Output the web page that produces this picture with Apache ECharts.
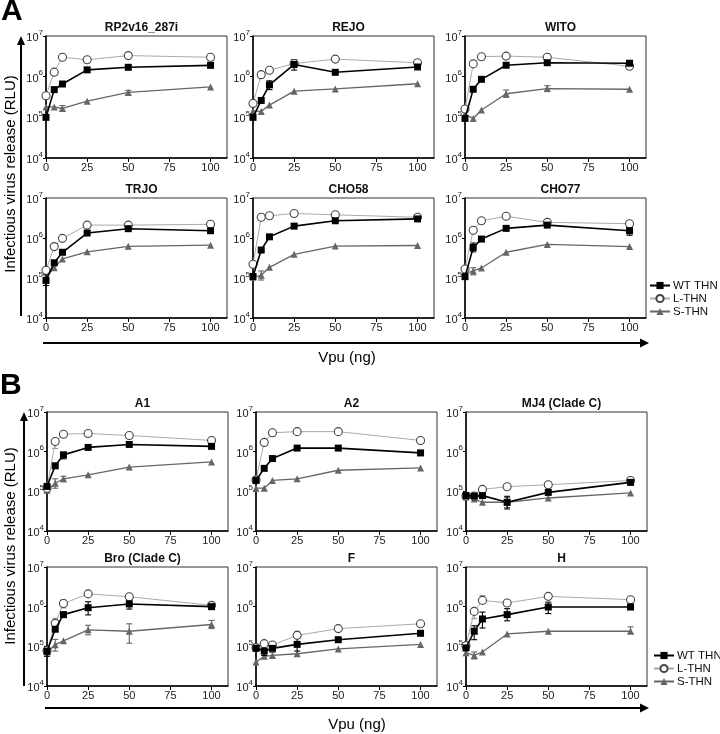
<!DOCTYPE html>
<html>
<head>
<meta charset="utf-8">
<script src="https://cdn.jsdelivr.net/npm/echarts@6/dist/echarts.min.js"></script>
<style>
html,body{margin:0;padding:0;background:#fff;}
#chart{width:720px;height:734px;}
</style>
</head>
<body>
<div id="chart"></div>
<script>
// ---------------- DATA ----------------
const panelTitles = ['RP2v16_287i','REJO','WITO','TRJO','CHO58','CHO77','A1','A2','MJ4 (Clade C)','Bro (Clade C)','F','H'];
const doses = [0, 5, 10, 25, 50, 100];
const xTicks = [0, 25, 50, 75, 100];
const seriesNames = ['WT THN', 'L-THN', 'S-THN'];

const wtTHN = [
  [1.0e5, 4.8e5, 6.6e5, 1.47e6, 1.7e6, 1.9e6],
  [1.0e5, 2.6e5, 6.3e5, 2.0e6, 1.28e6, 1.73e6],
  [9.4e4, 4.9e5, 8.6e5, 1.91e6, 2.2e6, 2.14e6],
  [8.7e4, 2.4e5, 4.4e5, 1.33e6, 1.71e6, 1.52e6],
  [1.09e5, 5.0e5, 1.07e6, 1.98e6, 2.7e6, 3.0e6],
  [1.08e5, 5.8e5, 9.4e5, 1.74e6, 2.1e6, 1.52e6],
  [1.33e5, 4.4e5, 8.3e5, 1.28e6, 1.52e6, 1.36e6],
  [1.88e5, 3.8e5, 6.7e5, 1.23e6, 1.23e6, 9.3e5],
  [7.8e4, 7.6e4, 7.8e4, 5.3e4, 9.4e4, 1.68e5],
  [7.5e4, 2.7e5, 6.3e5, 9.4e5, 1.17e6, 1.0e6],
  [8.9e4, 7.6e4, 8.9e4, 1.12e5, 1.47e5, 2.13e5],
  [9.1e4, 2.4e5, 4.9e5, 6.3e5, 9.8e5, 9.8e5]
];
const lTHN = [
  [3.4e5, 1.29e6, 3.0e6, 2.6e6, 3.3e6, 3.0e6],
  [2.2e5, 1.12e6, 1.44e6, 2.1e6, 2.7e6, 2.2e6],
  [1.6e5, 2.06e6, 3.1e6, 3.2e6, 3.0e6, 1.8e6],
  [1.56e5, 6.1e5, 9.8e5, 2.1e6, 2.1e6, 2.2e6],
  [2.2e5, 3.3e6, 3.6e6, 4.1e6, 3.8e6, 3.3e6],
  [1.68e5, 1.56e6, 2.7e6, 3.5e6, 2.46e6, 2.28e6],
  [1.2e5, 1.81e6, 2.76e6, 2.87e6, 2.56e6, 1.92e6],
  [1.94e5, 1.71e6, 3.0e6, 3.2e6, 3.2e6, 1.92e6],
  [7.6e4, 7.6e4, 1.12e5, 1.31e5, 1.47e5, 1.88e5],
  [7.8e4, 3.8e5, 1.2e6, 2.1e6, 1.78e6, 1.08e6],
  [9.3e4, 1.17e5, 1.08e5, 1.89e5, 2.8e5, 3.7e5],
  [1.04e5, 7.6e5, 1.44e6, 1.24e6, 1.82e6, 1.5e6]
];
const sTHN = [
  [1.8e5, 1.8e5, 1.65e5, 2.5e5, 4.1e5, 5.6e5],
  [1.44e5, 1.4e5, 2.0e5, 4.4e5, 5.0e5, 6.7e5],
  [1.19e5, 9.4e4, 1.52e5, 3.8e5, 5.1e5, 4.9e5],
  [1.06e5, 1.8e5, 3.0e5, 4.5e5, 6.2e5, 6.6e5],
  [1.05e5, 1.17e5, 1.85e5, 3.9e5, 6.3e5, 6.5e5],
  [1.28e5, 1.5e5, 1.78e5, 4.4e5, 6.9e5, 6.1e5],
  [1.06e5, 1.6e5, 2.07e5, 2.6e5, 4.1e5, 5.5e5],
  [1.2e5, 1.2e5, 1.88e5, 2.07e5, 3.4e5, 3.9e5],
  [7.2e4, 6.4e4, 5.3e4, 5.3e4, 6.8e4, 9.1e4],
  [7.2e4, 1.1e5, 1.38e5, 2.6e5, 2.4e5, 3.55e5],
  [4.0e4, 5.6e4, 5.9e4, 6.5e4, 8.6e4, 1.12e5],
  [6.9e4, 5.9e4, 7.2e4, 2.05e5, 2.4e5, 2.4e5]
];
// error bars: [panel, dose, low, high]
const wtErr = [
  [1,25,1.45e6,2.6e6],[1,10,4.8e5,7.9e5],
  [3,0,6.5e4,1.2e5],
  [5,5,4.5e5,7.5e5],[5,100,1.17e6,1.9e6],
  [6,10,6.6e5,9.6e5],
  [8,25,3.6e4,7.5e4],
  [9,25,6.2e5,1.33e6],[9,50,8.7e5,1.45e6],[9,0,5.6e4,1.0e5],
  [10,25,7.6e4,1.7e5],[10,5,5.9e4,1.04e5],
  [11,5,1.47e5,3.3e5],[11,10,2.9e5,7.3e5],[11,25,4.4e5,8.9e5],[11,50,6.7e5,1.3e6]
];
const lErr = [
  [6,5,1.2e6,2.1e6],[6,10,2.3e6,3.1e6],
  [9,5,2.9e5,5.1e5],[9,10,9.3e5,1.5e6],
  [10,25,1.6e5,2.4e5],
  [11,10,1.2e6,1.9e6],[11,50,1.6e6,2.1e6],[11,5,5.0e5,9.0e5]
];
const sErr = [
  [0,10,1.4e5,1.95e5],[0,50,3.5e5,4.6e5],
  [2,25,3.1e5,4.7e5],[2,50,4.3e5,6.0e5],
  [4,5,8.9e4,1.5e5],
  [5,5,1.2e5,1.8e5],
  [6,5,1.2e5,2.07e5],[6,10,1.75e5,2.4e5],
  [8,25,3.9e4,7.0e4],
  [9,5,7.6e4,1.5e5],[9,25,1.95e5,3.4e5],[9,50,1.2e5,3.7e5],[9,100,2.8e5,4.5e5],
  [10,10,5.0e4,7.0e4],
  [11,5,4.8e4,7.2e4],[11,100,2.1e5,3.1e5]
];

// ---------------- LAYOUT ----------------
const FONT = '"Liberation Sans", Arial, Helvetica, sans-serif';
const gridLefts = [46,253,465, 46,253,465, 47,256,466, 47,256,466];
const gridTops = [36,36,36, 198,198,198, 412,412,412, 567,567,567];
const gridHeights = [122,122,122, 120,120,120, 119,119,119, 119,119,119];
const gridWidth = 181;

const styles = [
  {color:'#000', lineWidth:1.6, symbol:'rect', symbolSize:7, item:{color:'#000', borderColor:'#000', borderWidth:0}},
  {color:'#aaa', lineWidth:1, symbol:'circle', symbolSize:8, item:{color:'#fff', borderColor:'#444', borderWidth:1.1}},
  {color:'#666', lineWidth:1.3, symbol:'triangle', symbolSize:7, item:{color:'#666', borderColor:'#666', borderWidth:0}}
];
const valueSets = [wtTHN, lTHN, sTHN];
const errSets = [wtErr, lErr, sErr];

const grids = [], xAxes = [], yAxes = [], titles = [], series = [];

function errRender(color) {
  return function (params, api) {
    const x = api.value(0), lo = api.value(1), hi = api.value(2);
    const a = api.coord([x, lo]), b = api.coord([x, hi]);
    const st = {stroke: color, lineWidth: 1.1};
    return {type:'group', children:[
      {type:'line', shape:{x1:a[0], y1:a[1], x2:b[0], y2:b[1]}, style:st},
      {type:'line', shape:{x1:a[0]-3, y1:a[1], x2:a[0]+3, y2:a[1]}, style:st},
      {type:'line', shape:{x1:b[0]-3, y1:b[1], x2:b[0]+3, y2:b[1]}, style:st}
    ]};
  };
}

for (let i = 0; i < 12; i++) {
  grids.push({left: gridLefts[i], top: gridTops[i], width: gridWidth, height: gridHeights[i],
    show: true, borderColor: '#333', borderWidth: 1, backgroundColor: 'transparent', containLabel: false});
  xAxes.push({type:'value', gridIndex:i, min:0, max:110,
    axisLine:{show:true, onZero:false, lineStyle:{color:'#000', width:1.5}},
    axisTick:{show:true, length:4, lineStyle:{color:'#000', width:1}, customValues: xTicks},
    axisLabel:{show:true, customValues: xTicks, fontSize:11, color:'#222', fontFamily:FONT, margin:4},
    splitLine:{show:false}});
  yAxes.push({type:'log', gridIndex:i, logBase:10, min:1e4, max:1e7,
    axisLine:{show:true, onZero:false, lineStyle:{color:'#000', width:1.5}},
    axisTick:{show:true, length:3, lineStyle:{color:'#000', width:1}},
    minorTick:{show:false},
    axisLabel:{show:true, margin:3, fontFamily:FONT,
      formatter: function (v) { return '{b|10}{s|' + Math.round(Math.log10(v)) + '}'; },
      rich:{ b:{fontSize:11, color:'#222', fontFamily:FONT, lineHeight:15, verticalAlign:'bottom'},
             s:{fontSize:8, color:'#222', fontFamily:FONT, lineHeight:8, verticalAlign:'top'} }},
    splitLine:{show:false}});
  titles.push({text: panelTitles[i], left: gridLefts[i] + gridWidth/2, top: gridTops[i] - 19, textAlign:'center',
    textStyle:{fontSize:12, fontWeight:'bold', color:'#111', fontFamily:FONT}});
  [2,1,0].forEach(function (k) {
    const st = styles[k];
    series.push({type:'line', name: seriesNames[k], xAxisIndex:i, yAxisIndex:i,
      data: doses.map(function (d, j) { return [d, valueSets[k][i][j]]; }),
      symbol: st.symbol, symbolSize: st.symbolSize, showAllSymbol:true, clip:false,
      lineStyle:{color: st.color, width: st.lineWidth}, itemStyle: st.item,
      emphasis:{disabled:true}, z: 3 + (2-k), animation:false});
    const errs = errSets[k].filter(function (e) { return e[0] === i; }).map(function (e) { return [e[1], e[2], e[3]]; });
    if (errs.length) {
      series.push({type:'custom', xAxisIndex:i, yAxisIndex:i, data: errs, renderItem: errRender(k===1 ? '#999' : st.color),
        encode:{x:0, y:[1,2]}, clip:false, z: 2 + (2-k), animation:false, silent:true});
    }
  });
}

function legendAt(left, top) {
  return {left:left, top:top, orient:'vertical', itemWidth:20, itemHeight:9, itemGap:0, padding:0,
    data: seriesNames, selectedMode:false,
    textStyle:{fontSize:11.5, lineHeight:13, color:'#111', fontFamily:FONT, padding:[0,0,0,-2]}};
}

function arrowV(x, yTop, yBottom) {
  return [
    {type:'line', shape:{x1:x, y1:yBottom, x2:x, y2:yTop+8}, style:{stroke:'#000', lineWidth:2}},
    {type:'polygon', shape:{points:[[x-4, yTop+9],[x, yTop],[x+4, yTop+9]]}, style:{fill:'#000'}}
  ];
}
function arrowH(y, xLeft, xRight) {
  return [
    {type:'line', shape:{x1:xLeft, y1:y, x2:xRight-8, y2:y}, style:{stroke:'#000', lineWidth:2}},
    {type:'polygon', shape:{points:[[xRight-9, y-4.5],[xRight, y],[xRight-9, y+4.5]]}, style:{fill:'#000'}}
  ];
}

const yTitle = 'Infectious virus release (RLU)';
const graphics = [].concat(
  [{type:'text', x:1, y:-3, style:{text:'A', fontSize:30, fontWeight:'bold', fill:'#000', fontFamily:FONT}},
   {type:'text', x:0, y:371, style:{text:'B', fontSize:30, fontWeight:'bold', fill:'#000', fontFamily:FONT}},
   {type:'text', x:11, y:174, rotation:Math.PI/2, style:{text:yTitle, fontSize:15, fill:'#000', fontFamily:FONT, align:'center', verticalAlign:'middle'}},
   {type:'text', x:11, y:546, rotation:Math.PI/2, style:{text:yTitle, fontSize:15, fill:'#000', fontFamily:FONT, align:'center', verticalAlign:'middle'}},
   {type:'text', x:347, y:358, style:{text:'Vpu (ng)', fontSize:15, fill:'#000', fontFamily:FONT, align:'center', verticalAlign:'middle'}},
   {type:'text', x:357, y:725, style:{text:'Vpu (ng)', fontSize:15, fill:'#000', fontFamily:FONT, align:'center', verticalAlign:'middle'}}],
  arrowV(21, 36, 316),
  arrowV(24, 412, 686),
  arrowH(343, 43, 649),
  arrowH(708, 45, 649)
);

const chart = echarts.init(document.getElementById('chart'), null, {renderer:'canvas'});
chart.setOption({
  animation:false,
  backgroundColor:'#fff',
  title: titles,
  grid: grids,
  xAxis: xAxes,
  yAxis: yAxes,
  legend: [legendAt(649, 279), legendAt(653, 649)],
  series: series,
  graphic: graphics
});
</script>
</body>
</html>
